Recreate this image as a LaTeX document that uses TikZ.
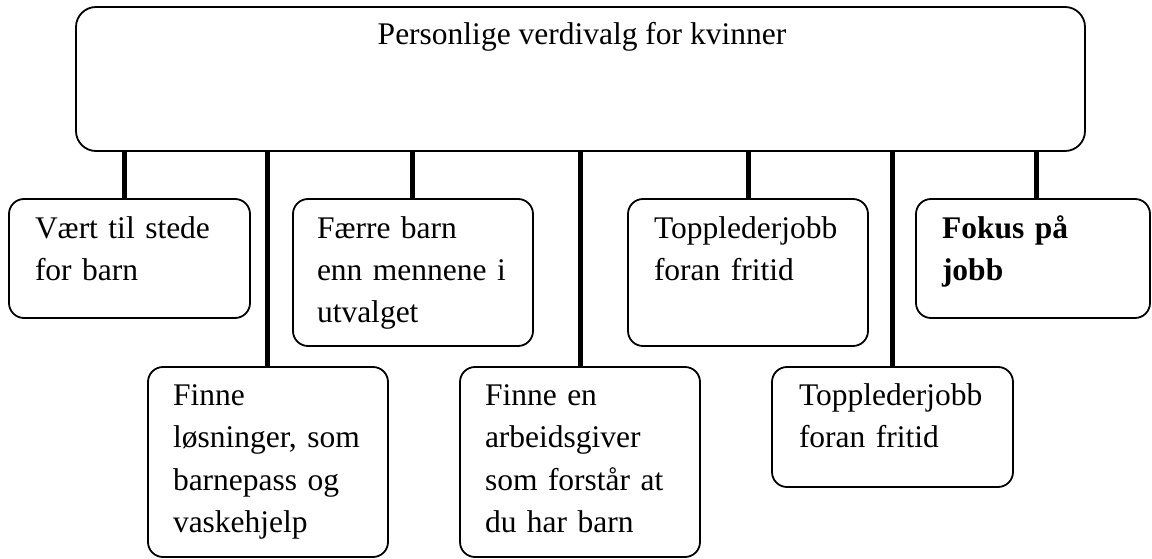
\documentclass[tikz,border=0pt]{standalone}
\usepackage{fontspec}
\setmainfont{Liberation Serif}
\begin{document}
\begin{tikzpicture}[x=1pt,y=-1pt,
  box/.style={draw, line width=1.8pt, rounded corners=15pt, inner sep=0pt, outer sep=0pt, anchor=north west},
  txt/.style={anchor=base west, inner sep=0pt, outer sep=0pt, text width=230pt, align=left, font=\fontsize{31.5}{42.5}\selectfont},
  conn/.style={line width=5pt}]
\useasboundingbox (0,0) rectangle (1152,559);
% boxes
\node[box, rounded corners=20pt, minimum width=1009pt, minimum height=144pt] (top) at (76,7) {};
\node[box, minimum width=241pt, minimum height=119pt] (b1) at (9,199) {};
\node[box, minimum width=240pt, minimum height=147pt] (b3) at (293,199) {};
\node[box, minimum width=240pt, minimum height=147pt] (b5) at (628,199) {};
\node[box, minimum width=234pt, minimum height=119pt] (b7) at (916,199) {};
\node[box, minimum width=240pt, minimum height=190pt] (b2) at (148,367) {};
\node[box, minimum width=240pt, minimum height=190pt] (b4) at (460,367) {};
\node[box, minimum width=241pt, minimum height=120pt] (b6) at (772,367) {};
% texts
\node[anchor=base, inner sep=0pt, font=\fontsize{31.5}{42.5}\selectfont] (t0) at (582,45) {Personlige verdivalg for kvinner};
\node[txt] (t1) at (35,238) {Vært til stede\\for barn};
\node[txt] (t3) at (317,238) {Færre barn\\enn mennene i\\utvalget};
\node[txt] (t5) at (654,238) {Topplederjobb\\foran fritid};
\node[txt, font=\fontsize{31.5}{42.5}\selectfont\bfseries] (t7) at (942,238) {Fokus på\\jobb};
\node[txt] (t2) at (173,405) {Finne\\løsninger, som\\barnepass og\\vaskehjelp};
\node[txt] (t4) at (485,405) {Finne en\\arbeidsgiver\\som forstår at\\du har barn};
\node[txt] (t6) at (799,405) {Topplederjobb\\foran fritid};
% connectors
\draw[conn] (top.south -| 124,0) -- (b1.north -| 124,0);
\draw[conn] (top.south -| 267,0) -- (b2.north -| 267,0);
\draw[conn] (top.south -| 412,0) -- (b3.north -| 412,0);
\draw[conn] (top.south -| 580,0) -- (b4.north -| 580,0);
\draw[conn] (top.south -| 748,0) -- (b5.north -| 748,0);
\draw[conn] (top.south -| 892,0) -- (b6.north -| 892,0);
\draw[conn] (top.south -| 1036,0) -- (b7.north -| 1036,0);
\end{tikzpicture}
\end{document}
